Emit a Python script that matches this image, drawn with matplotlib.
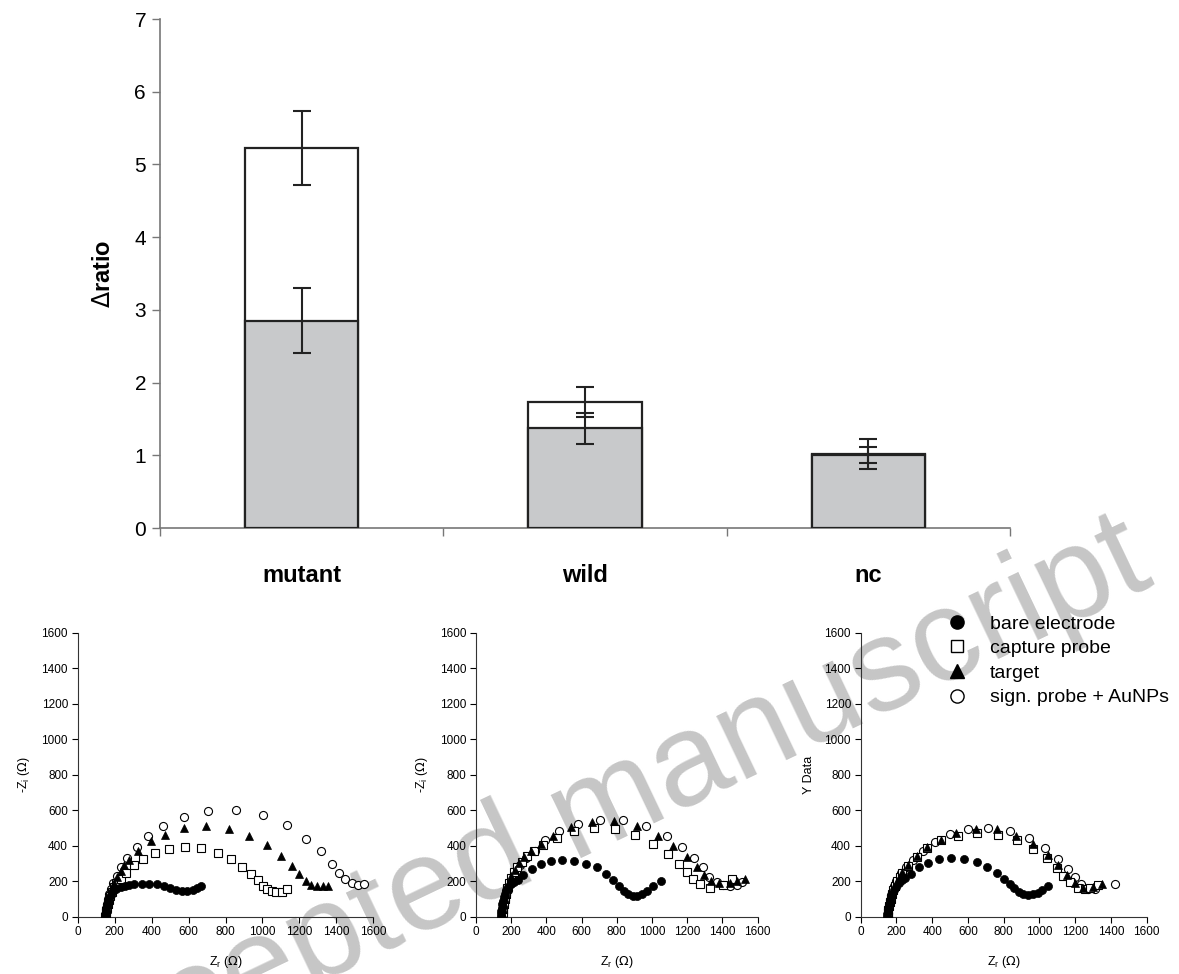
import numpy as np
import matplotlib
matplotlib.use('Agg')
import matplotlib.pyplot as plt
from matplotlib.lines import Line2D

plt.rcParams['font.family'] = ['Liberation Sans', 'DejaVu Sans']
plt.rcParams['mathtext.fontset'] = 'dejavusans'

# ---- bar chart data ----
categories = ['mutant', 'wild', 'nc']
gray_vals = [2.85, 1.37, 1.00]
gray_err = [0.45, 0.21, 0.11]
white_vals = [5.23, 1.73, 1.02]
white_err = [0.51, 0.21, 0.21]

# ---- impedance data (Z_r, -Z_i) ----
# panel 1
p1_bare_x = [148, 150, 152, 155, 159, 164, 171, 180, 193, 210, 232, 256, 280, 307, 350, 388, 428, 467, 500, 532, 563, 593, 622, 646, 667]
p1_bare_y = [0, 15, 30, 48, 66, 85, 104, 122, 142, 155, 166, 174, 180, 183, 186, 186, 183, 174, 164, 153, 146, 146, 153, 161, 174]
p1_cap_x = [150, 152, 155, 158, 162, 167, 174, 184, 196, 210, 232, 262, 305, 355, 418, 492, 579, 669, 758, 832, 891, 936, 974, 1003, 1026, 1050, 1075, 1104, 1135]
p1_cap_y = [0, 15, 32, 50, 70, 92, 115, 140, 165, 190, 215, 246, 291, 327, 360, 381, 392, 386, 360, 325, 282, 241, 205, 175, 157, 144, 138, 140, 155]
p1_tar_x = [150, 153, 157, 162, 168, 176, 186, 198, 213, 232, 252, 275, 328, 397, 473, 577, 694, 819, 929, 1026, 1100, 1162, 1200, 1234, 1263, 1294, 1326, 1357]
p1_tar_y = [0, 20, 45, 72, 100, 130, 160, 192, 225, 258, 290, 319, 368, 424, 461, 498, 510, 495, 457, 402, 342, 286, 239, 200, 181, 172, 172, 172]
p1_sig_x = [150, 152, 155, 159, 164, 171, 180, 192, 211, 234, 269, 319, 382, 463, 575, 707, 855, 1001, 1131, 1234, 1317, 1375, 1416, 1447, 1483, 1517, 1551]
p1_sig_y = [0, 20, 45, 72, 100, 130, 158, 190, 230, 280, 330, 392, 454, 510, 562, 596, 599, 570, 514, 439, 368, 299, 246, 215, 190, 181, 183]

# panel 2
p2_bare_x = [140, 142, 144, 147, 150, 154, 159, 165, 172, 182, 196, 215, 240, 269, 316, 367, 426, 487, 557, 625, 685, 737, 780, 814, 843, 865, 890, 913, 941, 970, 1007, 1051]
p2_bare_y = [0, 15, 32, 50, 70, 90, 110, 130, 150, 168, 185, 197, 207, 235, 269, 294, 314, 320, 316, 297, 277, 241, 207, 175, 145, 126, 117, 119, 128, 145, 175, 202]
p2_cap_x = [150, 152, 155, 159, 164, 170, 178, 188, 200, 215, 235, 260, 290, 330, 383, 458, 559, 672, 791, 905, 1007, 1089, 1151, 1200, 1234, 1272, 1329, 1405, 1456]
p2_cap_y = [0, 20, 45, 70, 100, 130, 160, 190, 220, 250, 280, 310, 340, 372, 405, 442, 480, 499, 493, 461, 410, 354, 298, 250, 215, 185, 164, 179, 213]
p2_tar_x = [148, 150, 153, 157, 162, 168, 176, 186, 200, 220, 245, 275, 315, 367, 439, 538, 659, 786, 914, 1032, 1121, 1198, 1257, 1295, 1335, 1380, 1443, 1480, 1530]
p2_tar_y = [0, 20, 45, 72, 100, 130, 160, 195, 230, 265, 300, 335, 370, 409, 452, 505, 533, 537, 508, 457, 399, 337, 281, 235, 203, 190, 188, 200, 213]
p2_sig_x = [150, 152, 155, 159, 164, 171, 180, 190, 205, 225, 250, 284, 335, 392, 473, 581, 704, 837, 966, 1083, 1172, 1240, 1287, 1325, 1367, 1405, 1443, 1481, 1513]
p2_sig_y = [0, 20, 42, 66, 92, 120, 150, 180, 215, 250, 290, 330, 371, 433, 480, 522, 546, 544, 512, 457, 393, 330, 277, 226, 194, 179, 175, 179, 194]

# panel 3
p3_bare_x = [145, 147, 150, 153, 157, 162, 168, 175, 185, 198, 215, 232, 248, 280, 326, 378, 440, 505, 578, 649, 708, 761, 802, 835, 859, 886, 910, 938, 966, 990, 1016, 1049]
p3_bare_y = [0, 15, 32, 50, 70, 90, 110, 130, 150, 170, 190, 205, 220, 241, 279, 305, 325, 333, 325, 307, 279, 245, 213, 184, 160, 141, 128, 122, 126, 132, 151, 175]
p3_cap_x = [150, 152, 155, 158, 162, 167, 173, 181, 191, 205, 218, 233, 266, 313, 373, 449, 546, 652, 770, 873, 966, 1040, 1096, 1133, 1171, 1217, 1255, 1283, 1326]
p3_cap_y = [0, 18, 38, 58, 80, 102, 125, 148, 172, 200, 222, 245, 288, 338, 389, 429, 457, 474, 461, 429, 380, 329, 276, 230, 194, 164, 156, 160, 179]
p3_tar_x = [150, 152, 155, 158, 162, 167, 173, 181, 191, 205, 218, 233, 266, 313, 373, 449, 531, 643, 761, 867, 966, 1049, 1105, 1152, 1199, 1245, 1301, 1348]
p3_tar_y = [0, 18, 38, 58, 80, 102, 125, 148, 172, 200, 225, 250, 292, 340, 392, 432, 474, 493, 493, 455, 408, 348, 292, 235, 188, 164, 169, 184]
p3_sig_x = [150, 152, 155, 159, 164, 170, 178, 188, 200, 225, 255, 294, 350, 416, 500, 599, 714, 835, 943, 1031, 1105, 1161, 1199, 1232, 1273, 1311, 1423]
p3_sig_y = [0, 20, 42, 66, 92, 120, 148, 175, 200, 245, 280, 320, 371, 423, 465, 493, 502, 485, 442, 386, 325, 269, 222, 183, 156, 156, 184]

legend_labels = ['bare electrode', 'capture probe', 'target', 'sign. probe + AuNPs']
panel_ylabels = ['-Z$_\\mathregular{i}$ ($\\Omega$)', '-Z$_\\mathregular{i}$ ($\\Omega$)', 'Y Data']
xlabel_text = 'Z$_\\mathregular{r}$ ($\\Omega$)'

W, H = 1179, 974
fig = plt.figure(figsize=(W / 100, H / 100), dpi=100)


def fig_box(left, top, right, bottom):
    return [left / W, 1 - bottom / H, (right - left) / W, (bottom - top) / H]


# watermark behind everything
fig.text(585 / W, 1 - 818 / H, 'Accepted manuscript', fontsize=95, color='#c6c6c6',
         rotation=25.5, ha='center', va='center', rotation_mode='anchor', zorder=-5)

# ---- top bar chart ----
ax = fig.add_axes(fig_box(160, 19, 1010, 528))
ax.patch.set_facecolor('none')
pos = np.arange(len(categories)) + 0.5
ax.bar(pos, white_vals, width=0.4, color='white', edgecolor='#222222', linewidth=1.6, zorder=2)
ax.bar(pos, gray_vals, width=0.4, color='#c8c9cb', edgecolor='#222222', linewidth=1.6, zorder=3)
ax.errorbar(pos, white_vals, yerr=white_err, fmt='none', ecolor='#222222', elinewidth=1.5,
            capsize=6.5, capthick=1.5, zorder=4)
ax.errorbar(pos, gray_vals, yerr=gray_err, fmt='none', ecolor='#222222', elinewidth=1.5,
            capsize=6.5, capthick=1.5, zorder=4)
ax.set_xlim(0, 3)
ax.set_ylim(0, 7)
ax.set_xticks([0, 1, 2, 3])
ax.set_xticklabels([])
ax.set_xticks(pos, minor=True)
ax.set_xticklabels(categories, minor=True, fontsize=17, fontweight='bold')
ax.tick_params(axis='x', which='minor', length=0, pad=26)
ax.tick_params(axis='x', which='major', length=6, width=1, color='#777777', direction='out')
ax.set_yticks(range(8))
ax.tick_params(axis='y', length=6, width=1, color='#777777', labelsize=15, pad=4)
for s in ['top', 'right']:
    ax.spines[s].set_visible(False)
for s in ['left', 'bottom']:
    ax.spines[s].set_color('#777777')
    ax.spines[s].set_linewidth(1.2)
ax.set_ylabel('$\\Delta$ratio', fontsize=17, fontweight='bold', labelpad=14)

# ---- bottom Nyquist panels ----
boxes = [fig_box(77.7, 632.5, 373.3, 916.7),
         fig_box(476, 632.5, 757.7, 916.7),
         fig_box(860.7, 632.5, 1146.7, 916.7)]
panels = [
    (p1_bare_x, p1_bare_y, p1_cap_x, p1_cap_y, p1_tar_x, p1_tar_y, p1_sig_x, p1_sig_y),
    (p2_bare_x, p2_bare_y, p2_cap_x, p2_cap_y, p2_tar_x, p2_tar_y, p2_sig_x, p2_sig_y),
    (p3_bare_x, p3_bare_y, p3_cap_x, p3_cap_y, p3_tar_x, p3_tar_y, p3_sig_x, p3_sig_y),
]

ms = 5.8
for i, (box, d) in enumerate(zip(boxes, panels)):
    a = fig.add_axes(box)
    a.patch.set_facecolor('none')
    a.plot(d[6], d[7], 'o', ms=ms, mfc='white', mec='black', mew=0.8, ls='none', zorder=3)
    a.plot(d[2], d[3], 's', ms=ms, mfc='white', mec='black', mew=0.8, ls='none', zorder=4)
    a.plot(d[4], d[5], '^', ms=ms + 0.5, mfc='black', mec='black', mew=0.5, ls='none', zorder=5)
    a.plot(d[0], d[1], 'o', ms=ms, mfc='black', mec='black', mew=0.5, ls='none', zorder=6)
    a.set_xlim(0, 1600)
    a.set_ylim(0, 1600)
    a.set_xticks(range(0, 1601, 200))
    a.set_yticks(range(0, 1601, 200))
    a.tick_params(labelsize=8.5, length=4, width=0.8, pad=3)
    for s in ['top', 'right']:
        a.spines[s].set_visible(False)
    for s in ['left', 'bottom']:
        a.spines[s].set_linewidth(0.8)
        a.spines[s].set_color('#333333')
    a.set_xlabel(xlabel_text, fontsize=9, labelpad=11)
    a.set_ylabel(panel_ylabels[i], fontsize=9, labelpad=7)

handles = [
    Line2D([], [], marker='o', ls='none', ms=9.5, mfc='black', mec='black'),
    Line2D([], [], marker='s', ls='none', ms=9, mfc='white', mec='black', mew=1),
    Line2D([], [], marker='^', ls='none', ms=10, mfc='black', mec='black'),
    Line2D([], [], marker='o', ls='none', ms=9.5, mfc='white', mec='black', mew=1),
]
fig.legend(handles, legend_labels, loc='upper left', bbox_to_anchor=(947 / W, 1 - 615 / H),
           frameon=False, fontsize=14, borderpad=0, borderaxespad=0, handlelength=1.0,
           handletextpad=1.2, labelspacing=0.36)

fig.savefig('out.png', dpi=100)
